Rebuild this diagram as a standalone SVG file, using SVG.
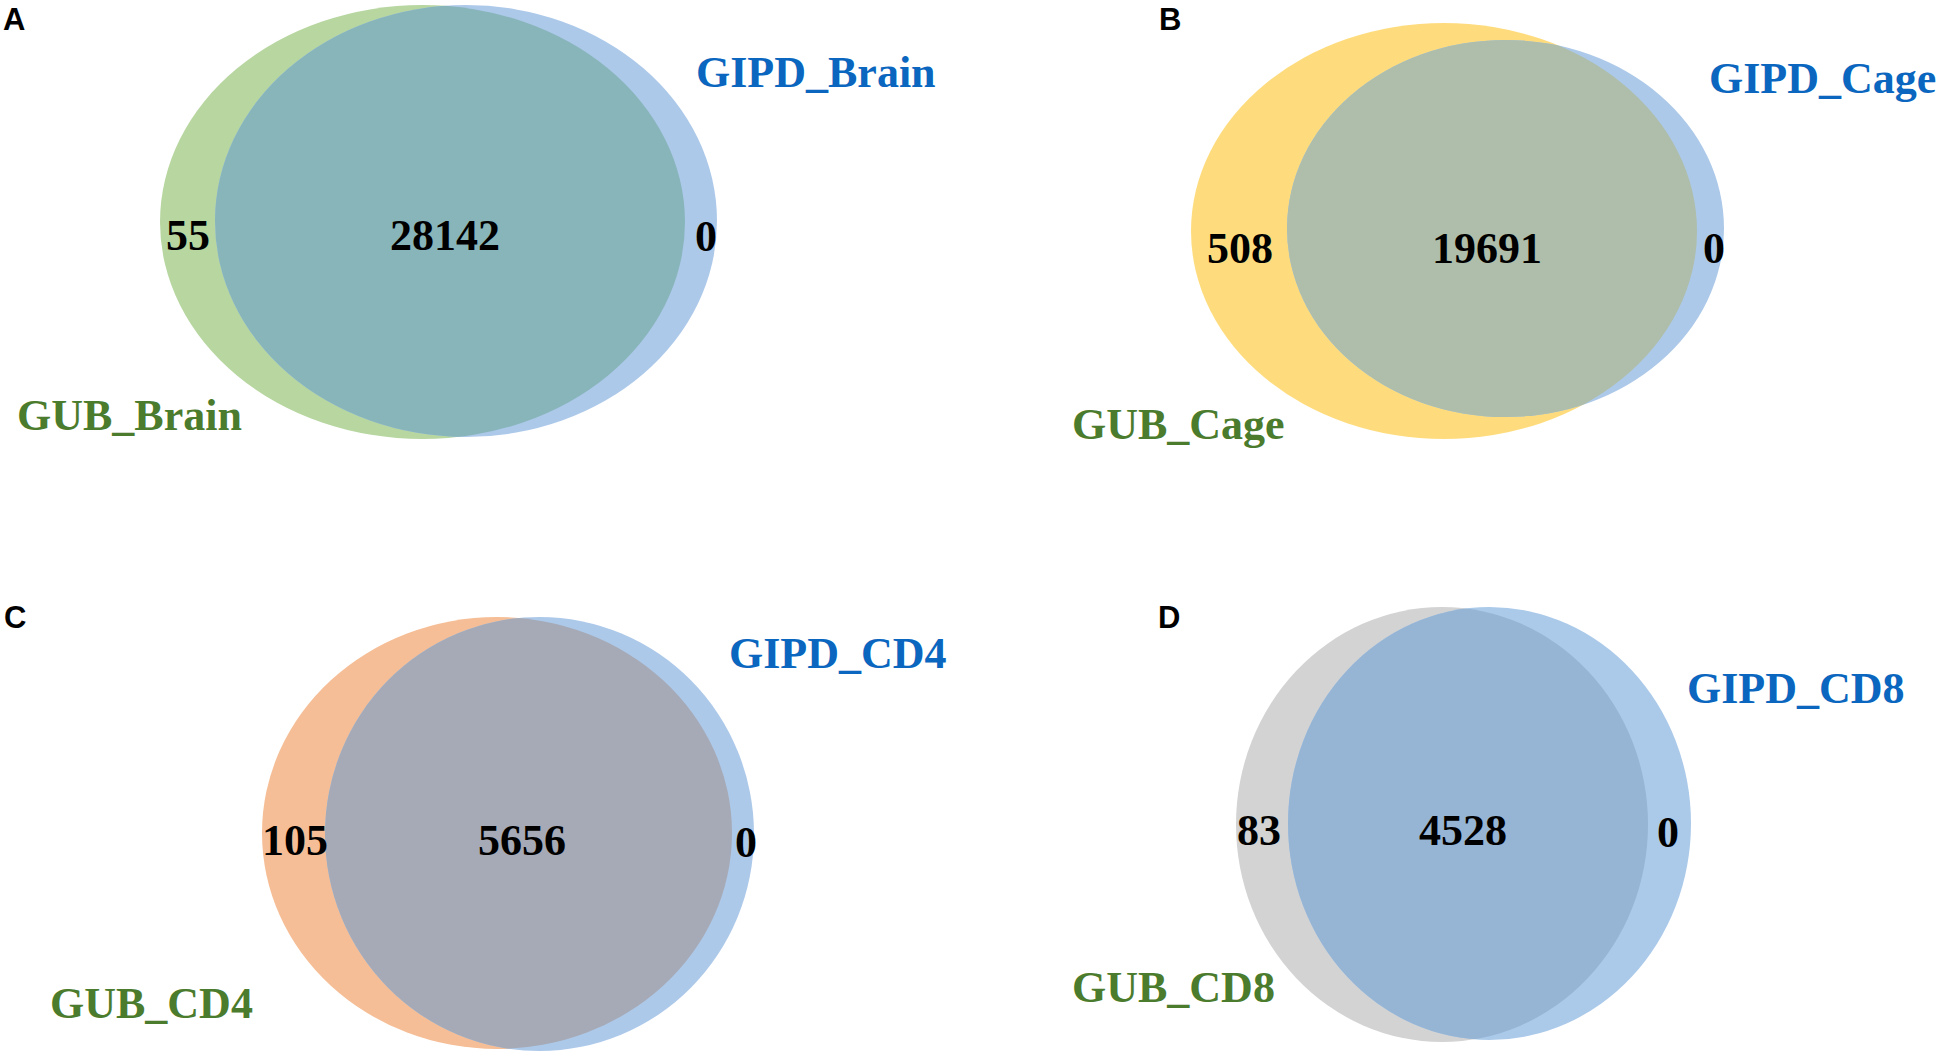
<svg xmlns="http://www.w3.org/2000/svg" width="1950" height="1060" viewBox="0 0 1950 1060">
<style>
.num{font-family:"Liberation Serif","Times New Roman",serif;font-weight:bold;font-size:44px;fill:#000}
.mid{text-anchor:middle}
.gub{font-family:"Liberation Serif","Times New Roman",serif;font-weight:bold;font-size:44px;fill:#4B7B2C}
.gipd{font-family:"Liberation Serif","Times New Roman",serif;font-weight:bold;font-size:44px;fill:#0A66BE}
.pl{font-family:"Liberation Sans",Arial,sans-serif;font-weight:bold;font-size:31px;fill:#000}
</style>
<defs>
<clipPath id="clipA"><ellipse cx="466" cy="221" rx="251" ry="216"/></clipPath>
<clipPath id="clipB"><ellipse cx="1505.5" cy="228.5" rx="218.5" ry="188.5"/></clipPath>
<clipPath id="clipC"><ellipse cx="539.5" cy="834" rx="214.5" ry="217"/></clipPath>
<clipPath id="clipD"><ellipse cx="1489.5" cy="823.5" rx="201.5" ry="216.5"/></clipPath>
</defs>
<rect width="1950" height="1060" fill="#fff"/>

<g id="panelA">
  <text class="pl" x="3" y="30">A</text>
  <g id="A_GUB"><ellipse cx="422.5" cy="222" rx="262.5" ry="217" fill="#B7D6A0"/></g>
  <g id="A_GIPD"><ellipse cx="466" cy="221" rx="251" ry="216" fill="#ADC9EA"/></g>
  <g id="A_overlap"><ellipse cx="422.5" cy="222" rx="262.5" ry="217" fill="#88B5BA" clip-path="url(#clipA)"/></g>
  <text class="num" x="166" y="250">55</text>
  <text class="num mid" x="445" y="250">28142</text>
  <text class="num" x="695" y="251">0</text>
  <text class="gub" x="17" y="430">GUB_Brain</text>
  <text class="gipd" x="696" y="87">GIPD_Brain</text>
</g>

<g id="panelB">
  <text class="pl" x="1159" y="30">B</text>
  <g id="B_GUB"><ellipse cx="1444" cy="231" rx="253" ry="208" fill="#FEDC7E"/></g>
  <g id="B_GIPD"><ellipse cx="1505.5" cy="228.5" rx="218.5" ry="188.5" fill="#ADC9E9"/></g>
  <g id="B_overlap"><ellipse cx="1444" cy="231" rx="253" ry="208" fill="#AEBEAA" clip-path="url(#clipB)"/></g>
  <text class="num" x="1207" y="263">508</text>
  <text class="num mid" x="1487" y="263">19691</text>
  <text class="num" x="1703" y="263">0</text>
  <text class="gub" x="1072" y="439">GUB_Cage</text>
  <text class="gipd" x="1709" y="93">GIPD_Cage</text>
</g>

<g id="panelC">
  <text class="pl" x="4" y="628">C</text>
  <g id="C_GUB"><ellipse cx="497" cy="833" rx="235" ry="216" fill="#F5BE96"/></g>
  <g id="C_GIPD"><ellipse cx="539.5" cy="834" rx="214.5" ry="217" fill="#ADC9EA"/></g>
  <g id="C_overlap"><ellipse cx="497" cy="833" rx="235" ry="216" fill="#A6AAB6" clip-path="url(#clipC)"/></g>
  <text class="num" x="262" y="855">105</text>
  <text class="num mid" x="522" y="855">5656</text>
  <text class="num" x="735" y="857">0</text>
  <text class="gub" x="50" y="1018">GUB_CD4</text>
  <text class="gipd" x="729" y="668">GIPD_CD4</text>
</g>

<g id="panelD">
  <text class="pl" x="1158" y="628">D</text>
  <g id="D_GUB"><ellipse cx="1442" cy="824.5" rx="206" ry="217.5" fill="#D3D3D3"/></g>
  <g id="D_GIPD"><ellipse cx="1489.5" cy="823.5" rx="201.5" ry="216.5" fill="#ABCAEA"/></g>
  <g id="D_overlap"><ellipse cx="1442" cy="824.5" rx="206" ry="217.5" fill="#96B4D4" clip-path="url(#clipD)"/></g>
  <text class="num" x="1237" y="845">83</text>
  <text class="num mid" x="1463" y="845">4528</text>
  <text class="num" x="1657" y="847">0</text>
  <text class="gub" x="1072" y="1002">GUB_CD8</text>
  <text class="gipd" x="1687" y="703">GIPD_CD8</text>
</g>

<g id="connectors"></g>
</svg>
